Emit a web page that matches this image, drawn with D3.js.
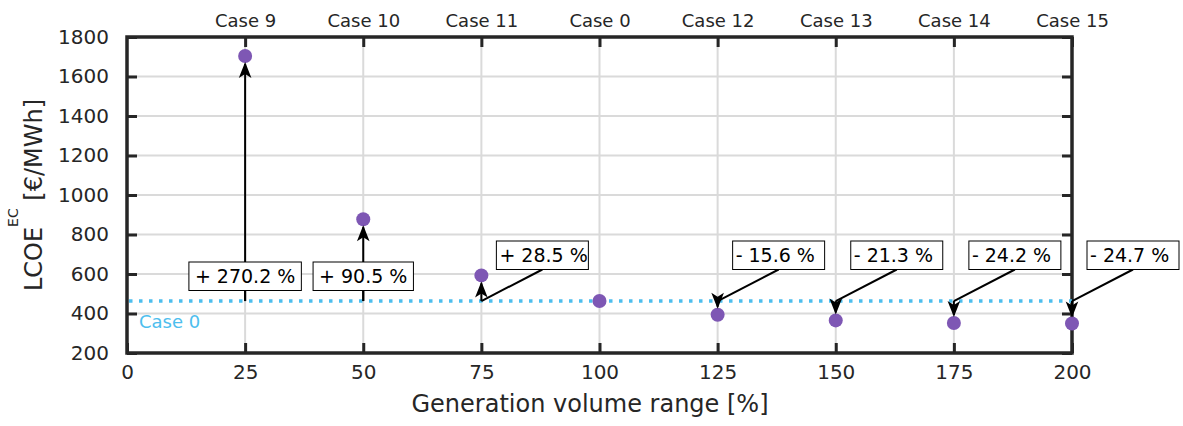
<!DOCTYPE html>
<html>
<head>
<meta charset="utf-8">
<script src="https://cdn.jsdelivr.net/npm/d3@7"></script>
<style>
    body { margin: 0; background: #fff; }
    svg text { font-family: "DejaVu Sans", Verdana, sans-serif; fill: #262626; }
</style>
</head>
<body>
<svg id="chart" width="1183" height="426"></svg>
<script>
// values
const volumeRange = [25, 50, 75, 100, 125, 150, 175, 200];
const caseNames = ['Case 9', 'Case 10', 'Case 11', 'Case 0', 'Case 12', 'Case 13', 'Case 14', 'Case 15'];
const lcoeValues = [1704, 877, 593, 463, 394, 365, 352, 349];
const changeLabels = ['+ 270.2 %', '+ 90.5 %', '+ 28.5 %', '', '- 15.6 %', '- 21.3 %', '- 24.2 %', '- 24.7 %'];
const baseCaseValue = 463;
const xTicks = [0, 25, 50, 75, 100, 125, 150, 175, 200];
const yTicks = [200, 400, 600, 800, 1000, 1200, 1400, 1600, 1800];

const width = 1183, height = 426;
const margin = { top: 37, right: 111, bottom: 73, left: 127 };
const colors = { axis: '#262626', grid: '#dadada', base: '#4dbeee', dot: '#7e57b4' };

const svg = d3.select('#chart');

const x = d3.scaleLinear().domain([0, 200]).range([margin.left, width - margin.right]);
const y = d3.scaleLinear().domain([200, 1800]).range([height - margin.bottom, margin.top]);

const data = volumeRange.map((v, i) => ({
    x: v, value: lcoeValues[i], name: caseNames[i], label: changeLabels[i]
}));

// grid
svg.append('g')
    .selectAll('line')
    .data(xTicks.slice(1, -1))
    .join('line')
    .attr('x1', d => x(d)).attr('x2', d => x(d))
    .attr('y1', y(200)).attr('y2', y(1800))
    .attr('stroke', colors.grid).attr('stroke-width', 2);

svg.append('g')
    .selectAll('line')
    .data(yTicks.slice(1, -1))
    .join('line')
    .attr('x1', x(0)).attr('x2', x(200))
    .attr('y1', d => y(d)).attr('y2', d => y(d))
    .attr('stroke', colors.grid).attr('stroke-width', 2);

// axes, ticks pointing inward
const styleAxis = (g, size) => {
    g.select('.domain').remove();
    g.selectAll('.tick line').attr('stroke', colors.axis).attr('stroke-width', 3);
    g.selectAll('.tick text').style('font-size', size + 'px').attr('fill', colors.axis);
};

svg.append('g')
    .attr('transform', `translate(${x(0)},0)`)
    .call(d3.axisLeft(y).tickValues(yTicks).tickSize(-10).tickPadding(18).tickFormat(d3.format('d')))
    .call(g => styleAxis(g, 20));

svg.append('g')
    .attr('transform', `translate(${x(200)},0)`)
    .call(d3.axisRight(y).tickValues(yTicks).tickSize(-10).tickFormat(''))
    .call(g => styleAxis(g, 20));

svg.append('g')
    .attr('transform', `translate(0,${y(200)})`)
    .call(d3.axisBottom(x).tickValues(xTicks).tickSize(-10).tickPadding(12))
    .call(g => styleAxis(g, 20));

svg.append('g')
    .attr('transform', `translate(0,${y(1800)})`)
    .call(d3.axisTop(x).tickValues(volumeRange).tickSize(-10).tickPadding(10)
        .tickFormat((d, i) => caseNames[i]))
    .call(g => styleAxis(g, 18));

svg.append('rect')
    .attr('x', x(0)).attr('y', y(1800))
    .attr('width', x(200) - x(0)).attr('height', y(200) - y(1800))
    .attr('fill', 'none').attr('stroke', colors.axis).attr('stroke-width', 3.5);

// axis titles
svg.append('text')
    .attr('x', 590)
    .attr('y', 412)
    .attr('text-anchor', 'middle')
    .style('font-size', '24px')
    .text('Generation volume range [%]');

const yTitle = svg.append('text')
    .attr('transform', `translate(42,${(y(200) + y(1800)) / 2}) rotate(-90)`)
    .attr('text-anchor', 'middle')
    .style('font-size', '24px');
yTitle.append('tspan').text('LCOE');
yTitle.append('tspan').attr('dy', -24).style('font-size', '14px').text('EC');
yTitle.append('tspan').attr('dy', 24).text(' [€/MWh]');

// base case reference line
const baseY = y(baseCaseValue);
svg.append('line')
    .attr('x1', x(0) + 2).attr('x2', x(200))
    .attr('y1', baseY).attr('y2', baseY)
    .attr('stroke', colors.base)
    .attr('stroke-width', 3.5)
    .attr('stroke-dasharray', '3.5 6.5');

svg.append('text')
    .attr('x', x(0) + 12)
    .attr('y', baseY + 27)
    .style('font-size', '18px')
    .style('fill', colors.base)
    .text('Case 0');

// points
const r = 7;
svg.append('g')
    .selectAll('circle')
    .data(data)
    .join('circle')
    .attr('cx', d => x(d.x))
    .attr('cy', d => y(d.value))
    .attr('r', r)
    .attr('fill', colors.dot);

// annotations: connector from box to the base line, arrow from base line to point
const headPath = (tx, ty, dir) => {
    const len = 16, half = 6.3, notch = 12;
    const by = ty - dir * len, ny = ty - dir * notch;
    return `M${tx},${ty}L${tx - half},${by}L${tx},${ny}L${tx + half},${by}Z`;
};

const notes = svg.append('g');
data.filter(d => d.label).forEach(d => {
    const px = x(d.x);
    const up = d.value > baseCaseValue;
    const dir = up ? -1 : 1;
    const tipY = y(d.value) - dir * (r - 1);
    const big = Math.abs(d.value - baseCaseValue) / baseCaseValue > 0.5;

    const g = notes.append('g');
    const txt = g.append('text')
        .style('font-size', '19px')
        .text(d.label);
    const tw = txt.node().getComputedTextLength();
    const bw = big ? tw + 12 : 92, bh = 28.5;
    const boxY = big ? 262 : 241;
    const boxX = big ? px - bw / 2 : px + 15;

    g.insert('line', 'text')
        .attr('x1', boxX + bw / 2).attr('y1', boxY + bh)
        .attr('x2', px).attr('y2', baseY)
        .attr('stroke', '#000').attr('stroke-width', 2);
    g.insert('line', 'text')
        .attr('x1', px).attr('y1', baseY)
        .attr('x2', px).attr('y2', tipY + dir * -2)
        .attr('stroke', '#000').attr('stroke-width', 2);
    g.insert('path', 'text')
        .attr('d', headPath(px, tipY, dir))
        .attr('fill', '#000');
    g.insert('rect', 'text')
        .attr('x', boxX).attr('y', boxY)
        .attr('width', bw).attr('height', bh)
        .attr('fill', '#fff').attr('stroke', '#000').attr('stroke-width', 1);
    txt.attr('x', big ? boxX + 6 : boxX + 3).attr('y', boxY + 21).style('fill', '#000');
});
</script>
</body>
</html>
